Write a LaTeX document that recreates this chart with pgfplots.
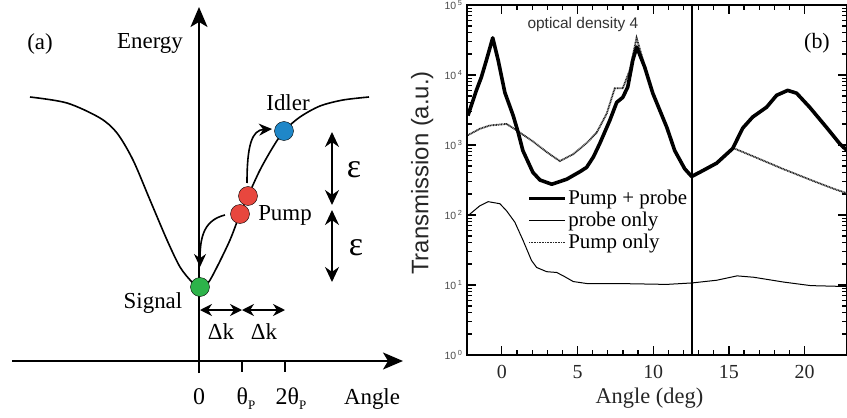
\documentclass[border=0pt]{standalone}
\usepackage{fontspec}
\setmainfont{Liberation Serif}
\setsansfont{Liberation Sans}
\usepackage{pgfplots}
\pgfplotsset{compat=1.18}
\usetikzlibrary{arrows.meta}
\newcommand{\fs}[1]{\fontsize{#1}{#1}\selectfont}
\definecolor{dotgreen}{HTML}{2DB34A}
\definecolor{dotred}{HTML}{E8473E}
\definecolor{dotblue}{HTML}{1F87C8}

\pgfplotstableread{
x y
-2.24 2630
-1.68 6030
-1.35 9330
-1.02 16200
-0.60 33900
-0.24 16200
0.20 5620
0.75 2630
1.08 1510
1.39 832
2.05 407
2.52 316
3.30 275
4.28 324
5.17 417
5.60 479
6.05 676
6.47 1050
7.13 2240
7.59 4070
7.99 4790
8.32 6760
8.65 16200
8.91 25100
9.44 12900
9.97 5500
10.90 1780
11.42 832
12.08 457
12.54 355
13.07 407
14.19 550
15.25 891
15.91 1740
16.57 2510
17.49 3470
18.15 5130
18.88 6030
19.47 5500
20.33 3470
21.45 1780
22.31 1050
22.80 832
}\pumpprobe

\pgfplotstableread{
x y
-2.24 1380
-1.46 1700
-0.79 1900
0.31 2000
0.97 1620
2.07 1120
2.96 794
3.83 589
4.72 741
5.61 1070
6.27 1510
6.93 2820
7.46 6460
7.99 6460
8.45 11700
8.90 33900
9.44 13500
9.97 5620
10.90 1820
11.42 851
12.08 468
12.54 363
13.07 417
14.19 562
15.25 912
16.80 661
18.55 457
20.53 309
21.85 240
22.80 204
}\pumponly

\pgfplotstableread{
x y
-2.23 98
-1.46 135
-0.90 155
-0.13 145
0.31 115
0.86 79
1.41 43
1.96 22.4
2.30 17.8
2.96 15.5
3.62 15.1
4.06 13.5
4.72 11.2
5.61 10.5
7.59 10.5
10.90 10.2
12.56 10.7
14.20 11.7
15.54 13.5
16.64 12.9
18.63 11.0
20.40 9.8
22.83 9.5
}\probeonly

\begin{document}
\begin{tikzpicture}
% ---------------- panel (b) ----------------
\begin{axis}[at={(467bp,63bp)}, anchor=south west, scale only axis,
  width=380bp, height=350bp,
  xmin=-2.3, xmax=22.8, ymode=log, ymin=1, ymax=1e5,
  axis line style={line width=1.2bp},
  xtick pos=both, ytick pos=both,
  tick align=inside,
  major tick length=9bp, minor tick length=5bp,
  tick style={line width=1.2bp, black},
  xtick={0,5,10,15,20}, minor x tick num=4,
  ytick={1,10,100,1000,10000,100000},
  yticklabels={10\,\textsuperscript{0},10\,\textsuperscript{1},10\,\textsuperscript{2},10\,\textsuperscript{3},10\,\textsuperscript{4},10\,\textsuperscript{5}},
  xticklabels={0,5,10,15,20},
  xticklabel style={font=\fs{20}, yshift=-7bp, text=black!85},
  yticklabel style={font=\sffamily\fs{10.5}, text=black!70, xshift=-1bp},
  xlabel={Angle (deg)},
  ylabel={Transmission (a.u.)},
  every axis x label/.style={at={(rel axis cs:0.48,-0.123)}, anchor=center, font=\fs{22.5}, text=black!85},
  every axis y label/.style={at={(rel axis cs:-0.118,0.52)}, rotate=90, anchor=center, font=\sffamily\fs{24}, text=black!85},
  legend style={draw=none, fill=none, at={(rel axis cs:0.158,0.475)}, anchor=north west,
    inner sep=0pt, font=\fs{21}, row sep=3bp, cells={anchor=west}, nodes={inner sep=1.5bp}},
  legend image code/.code={\draw[#1] (0bp,0bp) -- (36bp,0bp);},
  ]
\addplot[forget plot, black!85, line width=1.8bp, dash pattern=on 1bp off 0.6bp] table[x=x,y=y] {\pumponly};
\addplot[forget plot, black, line width=1bp] table[x=x,y=y] {\probeonly};
\addplot[forget plot, black, line width=3.6bp, line join=round] table[x=x,y=y] {\pumpprobe};
\addplot[forget plot, black, line width=2bp] coordinates {(12.55,1) (12.55,100000)};
\addlegendimage{black, line width=3.6bp}
\addlegendentry{Pump + probe}
\addlegendimage{black, line width=1bp}
\addlegendentry{probe only}
\addlegendimage{black!85, line width=1.8bp, dash pattern=on 1bp off 0.6bp}
\addlegendentry{Pump only}
\node[font=\sffamily\fs{15.5}, text=black!80] at (rel axis cs:0.305,0.943) {optical density 4};
\node[font=\fs{22}] at (rel axis cs:0.921,0.891) {(b)};
\end{axis}

% ---------------- panel (a) ----------------
\begin{axis}[at={(0bp,0bp)}, anchor=south west, scale only axis,
  width=400bp, height=418bp, xmin=0, xmax=400, ymin=0, ymax=418,
  y dir=reverse, hide axis, clip=false]
\addplot[line width=1.7bp, -{Stealth[length=20bp,width=17bp,inset=5bp]}] coordinates {(12,361) (403,361)};
\addplot[line width=1.7bp, -{Stealth[length=20bp,width=17bp,inset=5bp]}] coordinates {(199,373) (199,7)};
\addplot[line width=1.7bp] coordinates {(242,361) (242,372)};
\addplot[line width=1.7bp] coordinates {(285,361) (285,372)};
\addplot[line width=1.6bp, smooth] coordinates {
(30,97) (67,103) (100,118) (117,133) (133,160) (150,200) (167,240) (180,267)
(192,282) (200,287) (208,283) (217,267) (230,240) (240,214) (248,196)
(260,170) (273,147) (284,131) (300,117) (320,106) (343,100) (369,97)};
\addplot[line width=1.7bp, {Stealth[length=15bp,width=14bp]}-{Stealth[length=15bp,width=14bp]}] coordinates {(332,132) (332,205)};
\addplot[line width=1.7bp, {Stealth[length=15bp,width=14bp]}-{Stealth[length=15bp,width=14bp]}] coordinates {(332,210) (332,282)};
\addplot[line width=1.7bp, {Stealth[length=12bp,width=12bp]}-{Stealth[length=12bp,width=12bp]}] coordinates {(200,310) (242,310)};
\addplot[line width=1.7bp, {Stealth[length=12bp,width=12bp]}-{Stealth[length=12bp,width=12bp]}] coordinates {(242,310) (285,310)};
\draw[line width=1.6bp, -{Stealth[length=13bp,width=12bp]}] (axis cs:247,183) .. controls (axis cs:247,145) and (axis cs:252,130) .. (axis cs:272,129);
\draw[line width=1.6bp, -{Stealth[length=13bp,width=12bp]}] (axis cs:225,215) .. controls (axis cs:205,220) and (axis cs:200,235) .. (axis cs:200,267);
\addplot[only marks, mark=*, mark size=9.5bp, mark options={draw=none, fill=dotgreen}] coordinates {(200,287)};
\addplot[only marks, mark=*, mark size=9.5bp, mark options={draw=none, fill=dotred}] coordinates {(240,214) (248,196)};
\addplot[only marks, mark=*, mark size=9.5bp, mark options={draw=none, fill=dotblue}] coordinates {(284,131)};
\node[anchor=base, font=\fs{23}] at (axis cs:40,50) {(a)};
\node[anchor=base, font=\fs{23}] at (axis cs:150,49) {Energy};
\node[anchor=base, font=\fs{23}] at (axis cs:288,110) {Idler};
\node[anchor=base, font=\fs{23}] at (axis cs:285,220) {Pump};
\node[anchor=base, font=\fs{23}] at (axis cs:153,308) {Signal};
\node[anchor=base, font=\fs{24}] at (axis cs:199,404) {0};
\node[anchor=base, font=\fs{24}] at (axis cs:246,404) {θ\raisebox{-5bp}{\fs{13}P}};
\node[anchor=base, font=\fs{24}] at (axis cs:291,404) {2θ\raisebox{-5bp}{\fs{13}P}};
\node[anchor=base, font=\fs{23}] at (axis cs:372,404) {Angle};
\node[anchor=base, font=\fs{34}] at (axis cs:354,177) {ε};
\node[anchor=base, font=\fs{34}] at (axis cs:356,255) {ε};
\node[anchor=base, font=\fs{23}] at (axis cs:221,339) {Δk};
\node[anchor=base, font=\fs{23}] at (axis cs:264,339) {Δk};
\end{axis}
\pgfresetboundingbox
\useasboundingbox (0bp,0bp) rectangle (847bp,418bp);
\end{tikzpicture}
\end{document}
